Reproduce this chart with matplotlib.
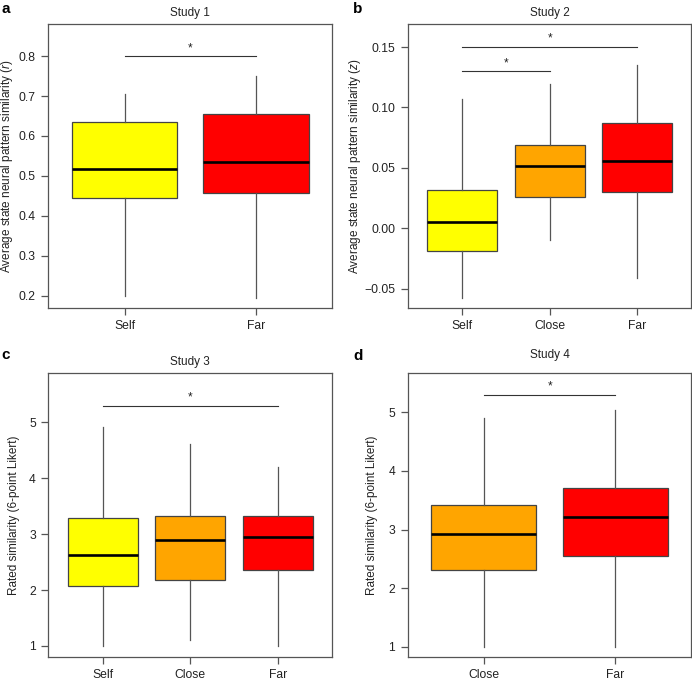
import numpy as np
import matplotlib
matplotlib.use("Agg")
import matplotlib.pyplot as plt

plt.rcParams['font.family'] = ['Liberation Sans', 'DejaVu Sans']
plt.rcParams['mathtext.fontset'] = 'custom'
plt.rcParams['mathtext.rm'] = 'Liberation Sans'
plt.rcParams['mathtext.it'] = 'Liberation Sans:italic'

# Study 1
s1_groups = ['Self', 'Far']
s1_whislo = [0.200, 0.193]
s1_q1 = [0.444, 0.457]
s1_med = [0.518, 0.535]
s1_q3 = [0.636, 0.655]
s1_whishi = [0.706, 0.751]
s1_sig = [(1, 2, 0.80)]

# Study 2
s2_groups = ['Self', 'Close', 'Far']
s2_whislo = [-0.058, -0.010, -0.041]
s2_q1 = [-0.019, 0.026, 0.030]
s2_med = [0.005, 0.0515, 0.056]
s2_q3 = [0.032, 0.069, 0.087]
s2_whishi = [0.107, 0.119, 0.135]
s2_sig = [(1, 3, 0.15), (1, 2, 0.13)]

# Study 3
s3_groups = ['Self', 'Close', 'Far']
s3_whislo = [1.0, 1.10, 1.0]
s3_q1 = [2.08, 2.18, 2.36]
s3_med = [2.63, 2.90, 2.95]
s3_q3 = [3.28, 3.32, 3.32]
s3_whishi = [4.91, 4.61, 4.20]
s3_sig = [(1, 3, 5.30)]

# Study 4
s4_groups = ['Close', 'Far']
s4_whislo = [1.0, 1.0]
s4_q1 = [2.31, 2.55]
s4_med = [2.92, 3.21]
s4_q3 = [3.42, 3.71]
s4_whishi = [4.91, 5.04]
s4_sig = [(1, 2, 5.30)]

colors = {'Self': '#FFFF00', 'Close': '#FFA500', 'Far': '#FF0000'}
edge = '#444444'
W, H = 692, 680


def panel(rect, groups, whislo, q1, med, q3, whishi, sig, ylim, yticks, yticklabels,
          ylabel, title, letter, title_y, letter_xy, label_x):
    ax = fig.add_axes(rect)
    stats = []
    for i in range(len(groups)):
        stats.append(dict(label=groups[i], whislo=whislo[i], q1=q1[i], med=med[i],
                          q3=q3[i], whishi=whishi[i], fliers=[]))
    bp = ax.bxp(stats, widths=0.8, patch_artist=True, showcaps=False,
                boxprops=dict(edgecolor=edge, linewidth=0.9),
                whiskerprops=dict(color='#555555', linewidth=0.9),
                medianprops=dict(color='black', linewidth=1.9, solid_capstyle='butt'))
    for patch, g in zip(bp['boxes'], groups):
        patch.set_facecolor(colors[g])
    n = len(groups)
    ax.set_xlim(0.5 - 0.04 * n, n + 0.5 + 0.04 * n)
    ax.set_ylim(ylim)
    ax.set_yticks(yticks)
    ax.set_yticklabels(yticklabels)
    for s in ax.spines.values():
        s.set_color('#555555')
        s.set_linewidth(0.9)
    ax.tick_params(axis='both', colors='#555555', labelcolor='#222222', labelsize=8.7,
                   length=5, width=0.9, direction='out')
    ax.tick_params(axis='y', pad=4)
    ax.tick_params(axis='x', pad=3.5)
    ax.set_ylabel(ylabel, fontsize=8.5, color='#222222')
    ax.yaxis.set_label_coords(label_x, 0.5)
    for a, b, y in sig:
        ax.plot([a, b], [y, y], color='#333333', linewidth=0.8)
        ax.annotate('*', xy=((a + b) / 2, y), xytext=(0, 1.5), textcoords='offset points',
                    ha='center', va='bottom', fontsize=8.5, color='#222222')
    cx = rect[0] + rect[2] / 2
    fig.text(cx, 1 - title_y / H, title, ha='center', va='center', fontsize=8.5, color='#222222')
    fig.text(letter_xy[0] / W, 1 - letter_xy[1] / H, letter, ha='left', va='center',
             fontsize=11, fontweight='bold')
    return ax


fig = plt.figure(figsize=(6.92, 6.8), dpi=100)

rect_a = [48.3 / W, 1 - 308.3 / H, 284 / W, 284 / H]
rect_b = [407.7 / W, 1 - 308.3 / H, 283.8 / W, 284 / H]
rect_c = [48.3 / W, 1 - 656.7 / H, 284 / W, 283.4 / H]
rect_d = [407.7 / W, 1 - 656.7 / H, 283.8 / W, 283.4 / H]

t1 = np.arange(0.2, 0.85, 0.1)
panel(rect_a, s1_groups, s1_whislo, s1_q1, s1_med, s1_q3, s1_whishi, s1_sig,
      (0.168, 0.880), t1, ['%.1f' % v for v in t1],
      'Average state neural pattern similarity ($\\mathit{r}$)', 'Study 1', 'a',
      13, (1, 9), -0.118)

t2 = [-0.05, 0.0, 0.05, 0.10, 0.15]
panel(rect_b, s2_groups, s2_whislo, s2_q1, s2_med, s2_q3, s2_whishi, s2_sig,
      (-0.0662, 0.1688), t2, ['\u22120.05', '0.00', '0.05', '0.10', '0.15'],
      'Average state neural pattern similarity ($\\mathit{z}$)', 'Study 2', 'b',
      13, (353, 9), -0.156)

t3 = [1, 2, 3, 4, 5]
panel(rect_c, s3_groups, s3_whislo, s3_q1, s3_med, s3_q3, s3_whishi, s3_sig,
      (0.808, 5.877), t3, [str(v) for v in t3],
      'Rated similarity (6-point Likert)', 'Study 3', 'c',
      361.7, (1, 355), -0.101)

panel(rect_d, s4_groups, s4_whislo, s4_q1, s4_med, s4_q3, s4_whishi, s4_sig,
      (0.829, 5.666), t3, [str(v) for v in t3],
      'Rated similarity (6-point Likert)', 'Study 4', 'd',
      355, (353, 356), -0.103)

fig.savefig('out.png', dpi=100)
